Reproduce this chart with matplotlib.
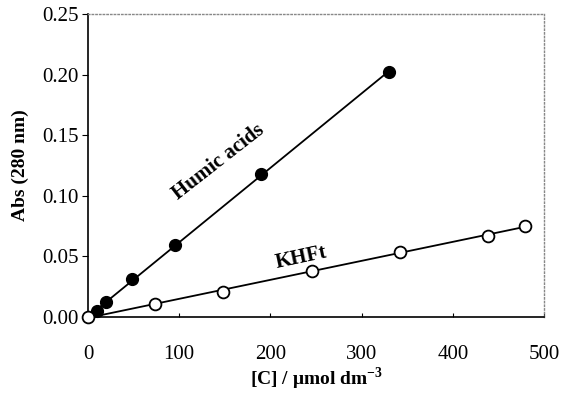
import numpy as np
import matplotlib.pyplot as plt

# data
humic_x = [0, 10, 20, 48, 95, 190, 330]
humic_y = [0.0, 0.005, 0.012, 0.031, 0.059, 0.118, 0.202]
khft_x = [0, 74, 148, 246, 342, 439, 479]
khft_y = [0.0, 0.011, 0.021, 0.038, 0.054, 0.067, 0.075]
xticks = [0, 100, 200, 300, 400, 500]
yticks = [0.00, 0.05, 0.10, 0.15, 0.20, 0.25]

plt.rcParams['font.family'] = ['Liberation Serif', 'DejaVu Serif']
plt.rcParams['mathtext.fontset'] = 'custom'
plt.rcParams['mathtext.rm'] = 'Liberation Serif'
plt.rcParams['mathtext.bf'] = 'Liberation Serif:bold'

fig = plt.figure(figsize=(5.62, 3.93), dpi=100)
ax = fig.add_axes([0.1566, 0.1934, 0.8114, 0.771])

# fitted trend lines through the points
for xs, ys in [(humic_x, humic_y), (khft_x, khft_y)]:
    k, b = np.polyfit(xs, ys, 1)
    xl = np.array([0, max(xs)])
    ax.plot(xl, k * xl + b, color='black', lw=1.3, zorder=2)

ax.plot(humic_x[1:], humic_y[1:], 'o', color='black', ms=8.5, zorder=3,
        clip_on=False)
ax.plot(khft_x, khft_y, 'o', mfc='white', mec='black', mew=1.3, ms=8.5,
        zorder=4, clip_on=False)

ax.set_xlim(0, 500)
ax.set_ylim(0, 0.25)
ax.set_xticks(xticks)
ax.set_yticks(yticks)
ax.set_xticklabels([str(t) for t in xticks])
ax.set_yticklabels(['%.2f' % t for t in yticks])
ax.tick_params(axis='x', direction='in', length=3, labelsize=15, pad=20)
ax.tick_params(axis='y', direction='out', length=4, labelsize=15, pad=3)

for s in ['top', 'right']:
    ax.spines[s].set_color('#888888')
    ax.spines[s].set_linestyle(':')
    ax.spines[s].set_linewidth(1.0)
for s in ['left', 'bottom']:
    ax.spines[s].set_linewidth(1.2)

ax.set_xlabel(r'[C] / μmol dm$^{\mathbf{-3}}$', fontsize=14, fontweight='bold', labelpad=1)
ax.set_ylabel('Abs (280 nm)', fontsize=14, fontweight='bold', labelpad=9)

ax.text(143, 0.128, 'Humic acids', rotation=38, fontsize=15, fontweight='bold',
        ha='center', va='center')
ax.text(234, 0.049, 'KHFt', rotation=12, fontsize=15, fontweight='bold',
        ha='center', va='center')

fig.savefig('out.png', dpi=100)
